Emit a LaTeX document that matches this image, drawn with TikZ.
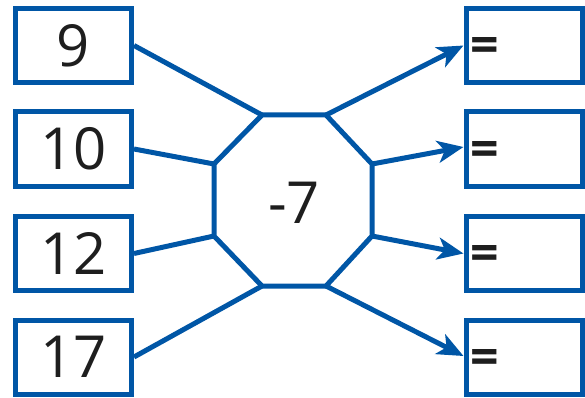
\documentclass[tikz,border=0pt]{standalone}
\usepackage{fontspec}
\setmainfont{Open Sans}
\usetikzlibrary{arrows.meta}
\definecolor{boxblue}{RGB}{0,86,166}
\definecolor{ink}{RGB}{30,30,30}
\tikzset{
  numbox/.style={draw=boxblue, line width=5pt, minimum width=116pt, minimum height=74pt, inner sep=0pt, text=ink, font=\fontsize{58}{58}\selectfont},
  conn/.style={draw=boxblue, line width=5pt},
  arr/.style={conn, -{Stealth[length=26pt, width=22pt, inset=7pt]}},
  eqsign/.style={text=ink, font=\fontsize{50}{50}\selectfont\bfseries, inner sep=0pt, anchor=west},
}
\begin{document}
\begin{tikzpicture}[x=1pt, y=-1pt]
\useasboundingbox (0,0) rectangle (585,398);
% left boxes
\node[numbox] (b9)  at (73.5,45.5)  {9};
\node[numbox] (b10) at (73.5,149)   {10};
\node[numbox] (b12) at (73.5,253.5) {12};
\node[numbox] (b17) at (73.5,357)   {17};
% right boxes
\node[numbox] (r1) at (524,45.5)  {};
\node[numbox] (r2) at (524,149)   {};
\node[numbox] (r3) at (524,253.5) {};
\node[numbox] (r4) at (524,357)   {};
\node[eqsign] (e1) at (470,50)  {=};
\node[eqsign] (e2) at (470,154) {=};
\node[eqsign] (e3) at (470,258) {=};
\node[eqsign] (e4) at (470,362) {=};
% octagon
\coordinate (o1) at (262,115);
\coordinate (o2) at (326,115);
\coordinate (o3) at (372,164);
\coordinate (o4) at (372,236);
\coordinate (o5) at (326,286);
\coordinate (o6) at (262,286);
\coordinate (o7) at (214,236);
\coordinate (o8) at (214,164);
\draw[conn, line join=miter] (o1) -- (o2) -- (o3) -- (o4) -- (o5) -- (o6) -- (o7) -- (o8) -- cycle;
\node[text=ink, font=\fontsize{58}{58}\selectfont, inner sep=0pt] (c) at (294,203) {-7};
% connectors
\draw[conn] (b9.east)  -- (o1);
\draw[conn] (b10.east) -- (o8);
\draw[conn] (b12.east) -- (o7);
\draw[conn] (b17.east) -- (o6);
\draw[arr] (o2) -- (r1.west);
\draw[arr] (o3) -- ([yshift=2pt]r2.west);
\draw[arr] (o4) -- (r3.west);
\draw[arr] (o5) -- ([yshift=1pt]r4.west);
\end{tikzpicture}
\end{document}
